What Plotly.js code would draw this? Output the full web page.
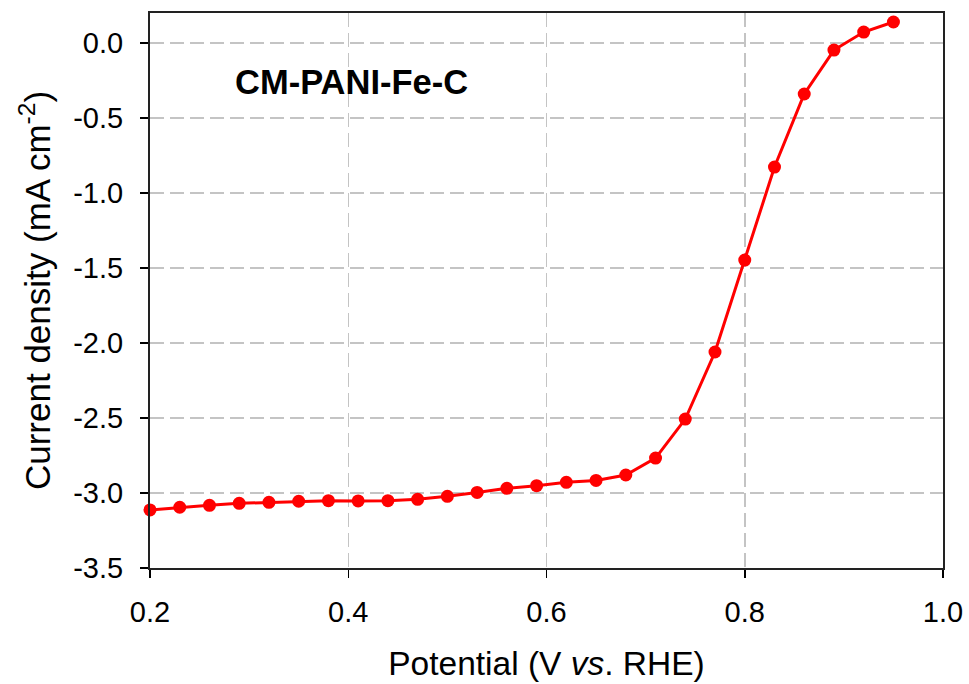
<!DOCTYPE html>
<html>
<head>
<meta charset="utf-8">
<script src="https://cdn.plot.ly/plotly-3.0.1.min.js"></script>
<style>html,body{margin:0;padding:0;background:#fff;}#chart{width:969px;height:684px;}</style>
</head>
<body>
<div id="chart"></div>
<script>
const potential = [0.20, 0.23, 0.26, 0.29, 0.32, 0.35, 0.38, 0.41, 0.44, 0.47, 0.50, 0.53, 0.56, 0.59, 0.62, 0.65, 0.68, 0.71, 0.74, 0.77, 0.80, 0.83, 0.86, 0.89, 0.92, 0.95];
const currentDensity = [-3.113, -3.095, -3.082, -3.069, -3.062, -3.055, -3.051, -3.053, -3.051, -3.042, -3.022, -2.996, -2.969, -2.951, -2.929, -2.916, -2.88, -2.767, -2.507, -2.06, -1.447, -0.827, -0.34, -0.047, 0.073, 0.14];
const xTicks = [0.2, 0.4, 0.6, 0.8, 1.0];
const yTicks = [-3.5, -3.0, -2.5, -2.0, -1.5, -1.0, -0.5, 0.0];
const sampleLabel = "CM-PANI-Fe-C";

const font = "Liberation Sans, Arial, sans-serif";
const trace = {
  x: potential, y: currentDensity, type: 'scatter', mode: 'lines+markers',
  line: {color: '#ff0000', width: 3},
  marker: {color: '#ff0000', size: 13},
  cliponaxis: false, showlegend: false
};
const layout = {
  width: 969, height: 684,
  margin: {l: 150, r: 26, t: 13, b: 116},
  paper_bgcolor: '#fff', plot_bgcolor: '#fff',
  font: {family: font, color: '#000'},
  xaxis: {
    range: [0.2, 1.0], tickvals: xTicks, ticktext: xTicks.map(v => v.toFixed(1)),
    ticks: 'outside', ticklen: 8, tickcolor: '#000', tickwidth: 1.5,
    ticklabelstandoff: 9,
    showline: true, linecolor: '#222', linewidth: 2, mirror: true,
    showgrid: true, gridcolor: '#c4c4c4', griddash: '14px,6px', gridwidth: 1.5,
    zeroline: false, tickfont: {size: 29, family: font},
    title: {text: 'Potential (V <i>vs</i>. RHE)', font: {size: 33.5, family: font}, standoff: 25}
  },
  yaxis: {
    range: [-3.5, 0.2], tickvals: yTicks, ticktext: yTicks.map(v => v.toFixed(1)),
    ticks: 'outside', ticklen: 8, tickcolor: '#000', tickwidth: 1.5,
    ticklabelstandoff: 11,
    showline: true, linecolor: '#222', linewidth: 2, mirror: true,
    showgrid: true, gridcolor: '#c4c4c4', griddash: '14px,6px', gridwidth: 1.5,
    zeroline: false, tickfont: {size: 29, family: font},
    title: {text: 'Current density (mA cm<sup>-2</sup>)', font: {size: 35, family: font}, standoff: 12}
  },
  annotations: [{
    text: '<b>' + sampleLabel + '</b>', xref: 'paper', yref: 'paper',
    x: 0.2535, y: 0.876, xanchor: 'center', yanchor: 'middle', showarrow: false,
    font: {size: 34.5, family: font, color: '#000'}
  }]
};
Plotly.newPlot('chart', [trace], layout, {displayModeBar: false, staticPlot: true});
</script>
</body>
</html>
